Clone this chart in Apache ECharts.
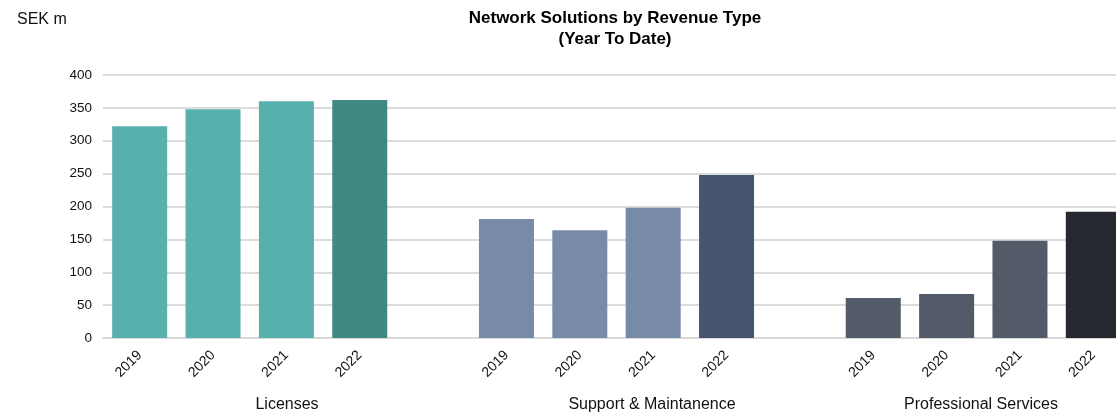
<!DOCTYPE html>
<html>
<head>
<meta charset="utf-8">
<script src="https://cdn.jsdelivr.net/npm/echarts@6/dist/echarts.min.js"></script>
<style>
html,body{margin:0;padding:0;background:#fff;overflow:hidden;width:1116px;height:413px;}
#chart{width:1130px;height:413px;}
</style>
</head>
<body>
<div id="chart"></div>
<script>
// ---- data ----
var groups = ['Licenses', 'Support & Maintanence', 'Professional Services'];
var years = ['2019', '2020', '2021', '2022'];
var licenses = [322, 348, 360, 362];
var support = [181, 164, 198, 248];
var professional = [61, 67, 148, 192];
var yTicks = [0, 50, 100, 150, 200, 250, 300, 350, 400];

// ---- colours (style) ----
var groupColors = [
  ['#58b0ad', '#58b0ad', '#58b0ad', '#3f8884'],
  ['#778ba9', '#778ba9', '#778ba9', '#46566f'],
  ['#535b69', '#535b69', '#535b69', '#25282f']
];

var seriesValues = [licenses, support, professional];
var cats = [];
var data = [];
seriesValues.forEach(function (vals, g) {
  if (g > 0) { cats.push(''); data.push('-'); }
  vals.forEach(function (v, i) {
    cats.push(years[i]);
    data.push({ value: v, itemStyle: { color: groupColors[g][i] } });
  });
});

var font = '"Liberation Sans", Arial, Helvetica, sans-serif';
var chart = echarts.init(document.getElementById('chart'), null, { renderer: 'canvas' });
chart.setOption({
  animation: false,
  backgroundColor: '#fff',
  grid: { left: 103, width: 1027, top: 75, height: 263, containLabel: false },
  xAxis: {
    type: 'category',
    data: cats,
    axisTick: { show: false },
    axisLine: { lineStyle: { color: '#d9d9d9', width: 2 } },
    axisLabel: { interval: 0, rotate: 45, margin: 15, color: '#111', fontSize: 14, fontFamily: font }
  },
  yAxis: {
    type: 'value',
    min: yTicks[0],
    max: yTicks[yTicks.length - 1],
    interval: yTicks[1] - yTicks[0],
    axisLine: { show: false },
    axisTick: { show: false },
    splitLine: { lineStyle: { color: '#dcdcdc', width: 2 } },
    axisLabel: { margin: 11, color: '#111', fontSize: 13.5, fontFamily: font }
  },
  graphic: [
    { type: 'text', x: 615, y: 8, style: { text: 'Network Solutions by Revenue Type\n(Year To Date)', textAlign: 'center', font: 'bold 17px ' + font, fill: '#000', lineHeight: 21 } },
    { type: 'text', x: 17, y: 12, style: { text: 'SEK m', font: '16px ' + font, fill: '#111' } },
    { type: 'text', x: 287, y: 397, style: { text: groups[0], textAlign: 'center', font: '16px ' + font, fill: '#111' } },
    { type: 'text', x: 652, y: 397, style: { text: groups[1], textAlign: 'center', font: '16px ' + font, fill: '#111' } },
    { type: 'text', x: 981, y: 397, style: { text: groups[2], textAlign: 'center', font: '16px ' + font, fill: '#111' } }
  ],
  series: [{
    type: 'bar',
    data: data,
    barWidth: 55
  }]
});
</script>
</body>
</html>
